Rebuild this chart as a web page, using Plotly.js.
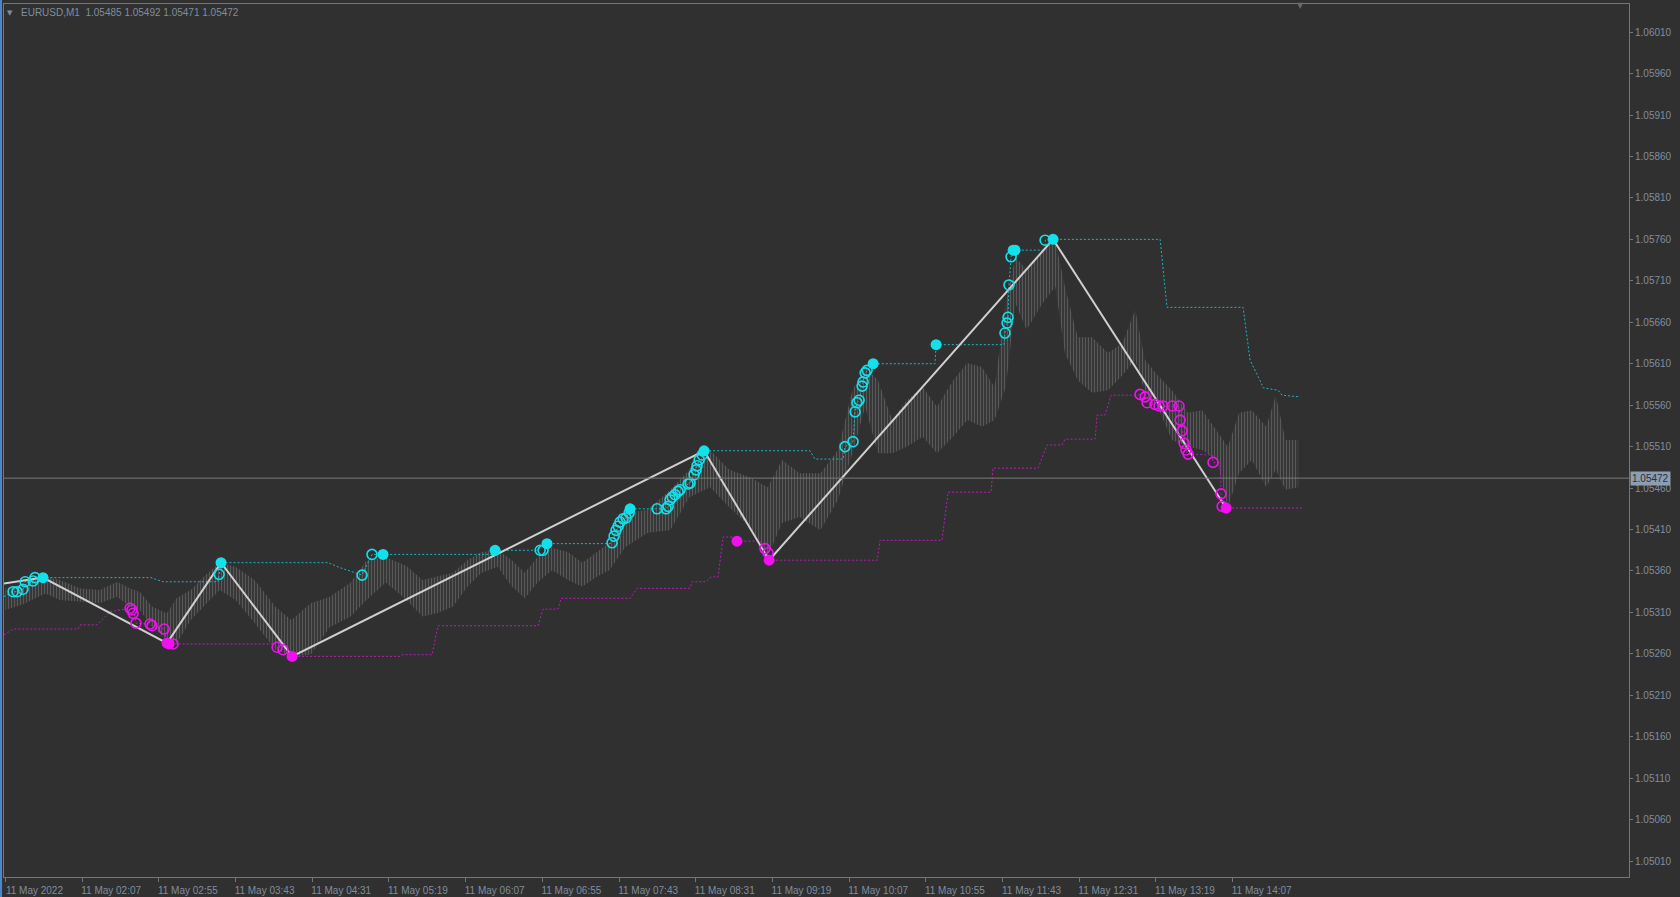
<!DOCTYPE html>
<html><head><meta charset="utf-8">
<script src="https://cdn.plot.ly/plotly-3.0.1.min.js"></script>
<style>html,body{margin:0;padding:0;background:#303030;overflow:hidden}#chart{width:1680px;height:897px}</style>
</head><body><div id="chart"></div>
<script>
// ---- x axis ticks (minutes of the day) ----
const tickMinutes = [79,127,175,223,271,319,367,415,463,511,559,607,655,703,751,799,847];
const tickLabels = ["11 May 2022","11 May 02:07","11 May 02:55","11 May 03:43","11 May 04:31","11 May 05:19","11 May 06:07","11 May 06:55","11 May 07:43","11 May 08:31","11 May 09:19","11 May 10:07","11 May 10:55","11 May 11:43","11 May 12:31","11 May 13:19","11 May 14:07"];

// ---- EURUSD M1 price envelope (high / low read per few minutes) ----
const priceTime = [79,89,98,104,113,126,138,149,157,163,171,180,186,195,204,213,223,235,248,258,270,282,295,305,317,330,340,349,359,368,377,387,396,404,412,421,431,440,449,457,467,481,495,507,520,532,545,556,565,576,589,600,609,617,625,634,643,653,662,672,681,690,698,705,711,718,728,736,742,750,759,769,778,786,792,800,809,819,828,837,844,851,859,868,874,880,888];
const priceHigh = [1.05339,1.05343,1.05349,1.05353,1.05349,1.05339,1.05337,1.05347,1.05339,1.05335,1.05317,1.05309,1.05327,1.05337,1.05355,1.05370,1.05365,1.05349,1.05317,1.05301,1.05321,1.05329,1.05346,1.05373,1.05377,1.05366,1.05349,1.05353,1.05358,1.05373,1.05383,1.05385,1.05373,1.05358,1.05377,1.05388,1.05383,1.05370,1.05383,1.05394,1.05430,1.05434,1.05458,1.05482,1.05506,1.05482,1.05473,1.05461,1.05494,1.05478,1.05478,1.05506,1.05578,1.05606,1.05590,1.05542,1.05566,1.05582,1.05558,1.05590,1.05611,1.05606,1.05582,1.05683,1.05739,1.05723,1.05747,1.05759,1.05703,1.05642,1.05642,1.05623,1.05635,1.05675,1.05615,1.05596,1.05578,1.05551,1.05554,1.05530,1.05510,1.05551,1.05554,1.05534,1.05572,1.05518,1.05518];
const priceLow = [1.05313,1.05319,1.05327,1.05333,1.05325,1.05323,1.05321,1.05329,1.05317,1.05313,1.05292,1.05277,1.05272,1.05301,1.05319,1.05337,1.05325,1.05297,1.05265,1.05257,1.05259,1.05292,1.05305,1.05325,1.05346,1.05325,1.05305,1.05309,1.05317,1.05341,1.05358,1.05365,1.05341,1.05327,1.05346,1.05361,1.05349,1.05341,1.05353,1.05361,1.05389,1.05406,1.05409,1.05449,1.05461,1.05437,1.05413,1.05377,1.05418,1.05425,1.05409,1.05446,1.05502,1.05558,1.05502,1.05502,1.05510,1.05522,1.05502,1.05522,1.05542,1.05534,1.05542,1.05582,1.05683,1.05651,1.05683,1.05703,1.05623,1.05590,1.05575,1.05578,1.05596,1.05615,1.05575,1.05558,1.05518,1.05510,1.05506,1.05494,1.05437,1.05478,1.05494,1.05461,1.05482,1.05458,1.05461];

// ---- ZigZag ----
const zzTime = [78.1,102.5,180.1,213.9,258.4,516.2,556.9,734.6,842.9];
const zzPrice = [1.05345,1.05352,1.05273,1.05370,1.05257,1.05505,1.05373,1.05760,1.05436];

// ---- upper channel (dotted cyan) ----
const upperTime = [78.1,83.1,86.3,90.0,91.3,96.3,97.5,102.5,170.1,177.6,212.0,213.9,280.9,288.4,297.8,302.2,308.4,385.4,386.0,411.7,417.9,457.4,458.6,459.9,461.1,462.4,463.6,465.5,467.4,469.3,469.9,492.4,493.7,494.9,496.2,498.0,499.9,501.2,506.2,507.4,509.9,511.2,511.8,513.1,515.0,516.2,582.5,585.6,603.2,604.4,609.4,610.7,611.9,613.2,615.1,615.7,617.0,618.2,622.0,660.7,661.4,703.9,704.5,705.8,706.4,707.0,708.3,709.6,729.6,729.7,734.6,801.6,805.9,853.5,857.9,864.1,866.0,875.4,877.9,889.2];
const upperPrice = [1.05329,1.05335,1.05335,1.05338,1.05347,1.05348,1.05352,1.05352,1.05352,1.05347,1.05347,1.05370,1.05370,1.05364,1.05358,1.05355,1.05380,1.05380,1.05385,1.05385,1.05393,1.05393,1.05394,1.05402,1.05409,1.05414,1.05419,1.05423,1.05424,1.05430,1.05435,1.05435,1.05438,1.05446,1.05449,1.05452,1.05456,1.05458,1.05465,1.05466,1.05476,1.05482,1.05487,1.05494,1.05500,1.05505,1.05505,1.05495,1.05495,1.05510,1.05516,1.05552,1.05563,1.05566,1.05583,1.05588,1.05599,1.05602,1.05610,1.05610,1.05633,1.05633,1.05647,1.05659,1.05666,1.05705,1.05739,1.05747,1.05747,1.05759,1.05760,1.05760,1.05678,1.05678,1.05614,1.05590,1.05581,1.05578,1.05572,1.05570];

// ---- lower channel (dotted magenta) ----
const lowerTime = [78.1,83.8,124.4,125.7,136.3,144.5,153.8,157.0,159.5,160.7,169.5,170.7,178.3,180.1,183.9,247.7,249.0,252.7,258.4,326.0,327.2,346.0,349.7,412.3,415.4,424.8,426.7,469.9,474.3,507.4,508.7,517.4,520.6,525.0,528.1,534.3,536.8,551.2,554.3,556.2,556.9,624.5,626.3,665.1,668.9,695.8,697.0,725.2,730.8,740.2,742.1,760.9,762.1,767.1,770.9,787.2,789.0,792.2,793.4,798.4,800.9,813.4,814.1,815.3,816.6,817.8,819.1,834.1,834.7,839.1,839.7,840.4,842.9,890.4];
const lowerPrice = [1.05283,1.05290,1.05290,1.05295,1.05295,1.05311,1.05314,1.05315,1.05309,1.05297,1.05296,1.05294,1.05290,1.05273,1.05272,1.05272,1.05268,1.05265,1.05257,1.05257,1.05259,1.05259,1.05294,1.05294,1.05314,1.05314,1.05327,1.05327,1.05339,1.05339,1.05347,1.05347,1.05353,1.05353,1.05401,1.05401,1.05396,1.05396,1.05387,1.05382,1.05373,1.05373,1.05397,1.05397,1.05455,1.05455,1.05484,1.05484,1.05512,1.05512,1.05519,1.05519,1.05548,1.05548,1.05572,1.05572,1.05573,1.05570,1.05563,1.05561,1.05559,1.05559,1.05542,1.05529,1.05514,1.05506,1.05501,1.05500,1.05491,1.05490,1.05453,1.05438,1.05436,1.05436];

// ---- breakout signals ----
const cyanOpenTime = [83.8,86.3,90.0,91.3,96.3,97.5,212.7,302.2,308.4,413.6,415.4,458.6,459.9,461.1,462.4,463.6,465.5,467.4,469.3,486.8,492.4,493.7,494.9,496.2,498.0,499.9,501.2,506.2,507.4,509.9,511.2,511.8,513.1,515.0,604.4,609.4,610.7,611.9,613.2,615.1,615.7,617.0,618.2,704.5,705.8,706.4,707.0,708.3,729.6];
const cyanOpenPrice = [1.05335,1.05335,1.05338,1.05347,1.05348,1.05352,1.05356,1.05355,1.05380,1.05385,1.05385,1.05394,1.05402,1.05409,1.05414,1.05419,1.05423,1.05424,1.05430,1.05435,1.05435,1.05438,1.05446,1.05449,1.05452,1.05456,1.05458,1.05465,1.05466,1.05476,1.05482,1.05487,1.05494,1.05500,1.05510,1.05516,1.05552,1.05563,1.05566,1.05583,1.05588,1.05599,1.05602,1.05647,1.05659,1.05666,1.05705,1.05739,1.05759];
const cyanDotTime = [102.5,213.9,315.3,385.4,417.9,469.9,516.2,622.0,661.4,709.6,710.8,734.6];
const cyanDotPrice = [1.05352,1.05370,1.05380,1.05385,1.05393,1.05435,1.05505,1.05610,1.05633,1.05747,1.05747,1.05760];
const magOpenTime = [157.0,158.2,158.9,160.7,169.5,170.7,178.3,183.9,249.0,252.7,554.3,556.2,789.0,792.2,793.4,798.4,800.9,803.4,809.1,813.4,814.1,815.3,816.6,817.8,819.1,834.7,839.7,840.4];
const magOpenPrice = [1.05315,1.05313,1.05309,1.05297,1.05296,1.05294,1.05290,1.05272,1.05268,1.05265,1.05387,1.05382,1.05573,1.05570,1.05563,1.05561,1.05559,1.05559,1.05559,1.05559,1.05542,1.05529,1.05514,1.05506,1.05501,1.05491,1.05453,1.05438];
const magDotTime = [180.1,181.4,258.4,536.8,556.9,842.9];
const magDotPrice = [1.05273,1.05272,1.05257,1.05396,1.05373,1.05436];

const lastPrice = 1.05472;
const headerText = "EURUSD,M1 \u00a01.05485 1.05492 1.05471 1.05472";

// ---- build traces ----
const bandX = priceTime.concat(priceTime.slice().reverse());
const bandY = priceHigh.concat(priceLow.slice().reverse());
const CY_LINE = '#18b8c4', CY = '#12e0ea', MG_LINE = '#b81cb8', MG = '#f010f0';

const traces = [
  {x: bandX, y: bandY, mode: 'lines', fill: 'toself', fillcolor: '#3a3a3a',
   fillpattern: {shape: '|', size: 3, solidity: 0.45, fgcolor: '#585858', bgcolor: '#313131'},
   line: {width: 0, color: '#4a4a4a'}, hoverinfo: 'skip'},
  {x: upperTime, y: upperPrice, mode: 'lines', line: {color: CY_LINE, width: 1, dash: '2px,2px'}},
  {x: lowerTime, y: lowerPrice, mode: 'lines', line: {color: MG_LINE, width: 1, dash: '2px,2px'}},
  {x: zzTime, y: zzPrice, mode: 'lines', line: {color: '#cfcfcf', width: 2}},
  {x: cyanOpenTime, y: cyanOpenPrice, mode: 'markers', marker: {symbol: 'circle-open', size: 10, color: CY, line: {width: 1.6, color: CY}}},
  {x: magOpenTime, y: magOpenPrice, mode: 'markers', marker: {symbol: 'circle-open', size: 10, color: MG, line: {width: 1.6, color: MG}}},
  {x: cyanDotTime, y: cyanDotPrice, mode: 'markers', marker: {symbol: 'circle', size: 11, color: CY}},
  {x: magDotTime, y: magDotPrice, mode: 'markers', marker: {symbol: 'circle', size: 11, color: MG}}
];

const AX = '#6b7886', TXT = '#808d9e';
const layout = {
  width: 1680, height: 897,
  paper_bgcolor: '#303030', plot_bgcolor: '#303030',
  margin: {l: 4, r: 51, t: 4, b: 20},
  showlegend: false, hovermode: false,
  xaxis: {range: [78.1, 1095], tickmode: 'array', tickvals: tickMinutes, ticktext: tickLabels,
    showgrid: false, zeroline: false, showline: true, mirror: true, linecolor: AX, linewidth: 1,
    ticks: 'outside', ticklen: 4, tickcolor: AX, ticklabelshift: 29,
    tickfont: {family: 'Liberation Sans, Arial, sans-serif', size: 10, color: TXT}},
  yaxis: {range: [1.049909, 1.060439], side: 'right', tick0: 1.0501, dtick: 0.0005, tickformat: '.5f',
    showgrid: false, zeroline: false, showline: true, mirror: true, linecolor: AX, linewidth: 1,
    ticks: 'outside', ticklen: 3, tickcolor: AX,
    tickfont: {family: 'Liberation Sans, Arial, sans-serif', size: 10, color: TXT}},
  shapes: [
    {type: 'line', xref: 'paper', x0: 0, x1: 1, yref: 'y', y0: lastPrice, y1: lastPrice, line: {color: '#7a7a7a', width: 1}},
    {type: 'rect', xref: 'paper', x0: -0.00246, x1: -0.0012, yref: 'paper', y0: -0.03, y1: 1.005, line: {width: 0}, fillcolor: '#4a86c8'}
  ],
  annotations: [
    {xref: 'paper', yref: 'paper', x: 0.0037, y: 0.9897, xanchor: 'center', yanchor: 'middle', text: '\u25BC', showarrow: false, font: {family: 'DejaVu Sans', size: 7, color: TXT}},
    {xref: 'paper', yref: 'paper', x: 0.0093, y: 0.9897, xanchor: 'left', yanchor: 'middle', text: headerText, showarrow: false, font: {family: 'Liberation Sans, Arial, sans-serif', size: 10, color: TXT}},
    {xref: 'paper', yref: 'paper', x: 0.798, y: 0.998, xanchor: 'center', yanchor: 'middle', text: '\u25BC', showarrow: false, font: {family: 'DejaVu Sans', size: 8, color: '#6a6a6a'}},
    {xref: 'paper', yref: 'y', x: 1.0007, y: lastPrice, xanchor: 'left', yanchor: 'middle', text: lastPrice.toFixed(5), showarrow: false,
     bgcolor: '#8d9db2', borderpad: 1, font: {family: 'Liberation Sans, Arial, sans-serif', size: 10, color: '#2b3036'}}
  ]
};

Plotly.newPlot('chart', traces, layout, {staticPlot: true, displayModeBar: false});
</script></body></html>
